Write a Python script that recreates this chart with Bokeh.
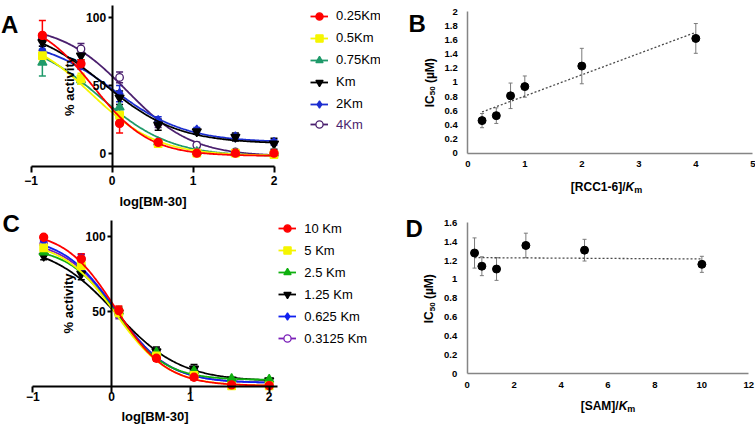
import numpy as np
from bokeh.plotting import figure
from bokeh.models import (Range1d, FixedTicker, Whisker, TeeHead, ColumnDataSource,
                          Legend, LegendItem, Label, CustomJSTickFormatter, LinearAxis)
from bokeh.layouts import row
from bokeh.embed import file_html
from bokeh.resources import INLINE

FONT = "Liberation Sans"

# ---------------- data ----------------
log_conc = [-0.862, -0.385, 0.092, 0.569, 1.046, 1.523, 2.0]
a_ticks_x = [-1, 0, 1, 2]
a_ticks_y = [0, 50, 100]
c_ticks_y = [50, 100]

# Panel A
a_labels = ["0.25Km", "0.5Km", "0.75Km", "Km", "2Km", "4Km"]
a_025 = [87, 66, 22, 8, 0, 0, 0]
a_05 = [72, 55, 28, 7, 0, 0, -1]
a_075 = [67, 54, 34, 8, 1, 0, 0]
a_km = [82, 72, 41, 21, 16, 12, 7]
a_2km = [76, 65, 44, 24, 17, 12, 8]
a_4km = [85, 77, 56, 22, 6, 1, 0]
a_025_err = [11, 3, 7, 2, 1, 1, 1]
a_05_err = [4, 4, 3, 2, 1, 1, 1]
a_075_err = [10, 3, 8, 2, 2, 1, 1]
a_km_err = [3, 3, 5, 4, 2, 3, 4]
a_2km_err = [3, 3, 6, 3, 2, 2, 2]
a_4km_err = [3, 4, 4, 3, 2, 1, 1]
# fitted 4-parameter logistic curves: top, bottom, logIC50, Hill slope
a_top = [100, 90, 85, 95, 85, 95]
a_bottom = [-2, -2, -2.5, 7, 8, -2.5]
a_logic50 = [-0.23, -0.26, -0.145, -0.1, 0.02, 0.18]
a_hill = [1.25, 1.05, 1.0, 0.95, 0.97, 1.07]

# Panel C
c_labels = ["10 Km", "5 Km", "2.5 Km", "1.25 Km", "0.625 Km", "0.3125 Km"]
c_10 = [99.5, 85, 50.4, 18.5, 5.8, 0.7, 0.2]
c_5 = [92.4, 80.6, 49, 20, 7, 0, 0]
c_25 = [89.5, 81.7, 50, 22.5, 10, 4.7, 4.2]
c_125 = [87, 75, 49, 23, 11.4, 4.2, 3.6]
c_0625 = [97, 85, 49, 21, 9, 3.6, 2.5]
c_03125 = [95, 85, 48, 22.5, 10, 3.6, 2.5]
c_10_err = [1.5, 3.5, 3, 2, 2, 1, 1]
c_5_err = [3, 3, 3, 2, 2, 1, 1]
c_25_err = [2, 3, 3, 2, 2, 1, 1]
c_125_err = [2.5, 4, 3, 3, 3, 1, 1]
c_0625_err = [2, 3, 3, 3, 2, 1, 1]
c_03125_err = [2, 3, 3, 3, 3, 1, 1]
c_top = [104, 97, 93, 95, 100, 98]
c_bottom = [0, 0, 4, 3, 2, 2]
c_logic50 = [0.05, 0.05, 0.06, 0.05, 0.05, 0.06]
c_hill = [1.35, 1.3, 1.4, 1.05, 1.3, 1.3]

# Panel B
b_ratio = [0.25, 0.5, 0.75, 1, 2, 4]
b_ic50 = [0.46, 0.53, 0.81, 0.94, 1.23, 1.62]
b_err = [0.10, 0.11, 0.18, 0.15, 0.25, 0.21]
b_ticks_x = [0, 1, 2, 3, 4, 5]
b_ticks_y = [0, 0.2, 0.4, 0.6, 0.8, 1.0, 1.2, 1.4, 1.6, 1.8, 2.0]

# Panel D
d_ratio = [0.3125, 0.625, 1.25, 2.5, 5, 10]
d_ic50 = [1.28, 1.14, 1.11, 1.36, 1.31, 1.16]
d_err = [0.16, 0.10, 0.12, 0.13, 0.115, 0.085]
d_ticks_x = [0, 2, 4, 6, 8, 10, 12]
d_ticks_y = [0, 0.2, 0.4, 0.6, 0.8, 1.0, 1.2, 1.4, 1.6]

# ---------------- styles ----------------
a_colors = ["#ff0000", "#f5f500", "#1f9a6a", "#000000", "#1c2ed0", "#4a1f6e"]
c_colors = ["#ff0000", "#f5f500", "#10b010", "#000000", "#1020f0", "#7a1fb8"]
markers = ["circle", "square", "triangle", "inverted_triangle", "diamond", "circle"]
msizes = [8, 7.5, 9, 9, 10, 7.5]

# Arial-bold-like widths (per 1000 em) for composing mixed-style labels
CW = {'[': 333, ']': 333, 'R': 722, 'C': 722, '1': 556, '-': 333, '6': 556, '/': 278,
      'K': 722, 'm': 889, 'S': 667, 'A': 722, 'M': 833, 'I': 278, '5': 556, '0': 556,
      ' ': 278, '(': 333, ')': 333, 'µ': 611}


def tw(s, size):
    return sum(CW.get(ch, 600) for ch in s) * size / 1000.0


class Geo:
    """maps canvas pixels to data units from two reference positions per axis"""
    def __init__(self, w, h, xpx0, xv0, xpx1, xv1, ypx0, yv0, ypx1, yv1, name=None):
        self.w, self.h = w, h
        self.sx = (xpx1 - xpx0) / (xv1 - xv0)
        self.xl = xv0 - xpx0 / self.sx
        self.sy = (ypx0 - ypx1) / (yv1 - yv0)
        self.yt = yv0 + ypx0 / self.sy
        self.xn = "default" if name is None else name + "x"
        self.yn = "default" if name is None else name + "y"

    def X(self, px):
        return self.xl + px / self.sx

    def Y(self, py):
        return self.yt - py / self.sy

    def xr(self):
        return Range1d(self.X(0), self.X(self.w))

    def yr(self):
        return Range1d(self.Y(self.h), self.Y(0))


def column_fig(g_top, g_bottom):
    p = figure(width=g_top.w, height=g_top.h, x_range=g_top.xr(), y_range=g_top.yr(),
               output_backend="svg", toolbar_location=None, min_border=0)
    p.extra_x_ranges = {g_bottom.xn: g_bottom.xr()}
    p.extra_y_ranges = {g_bottom.yn: g_bottom.yr()}
    p.outline_line_color = None
    p.grid.visible = False
    p.background_fill_color = "white"
    p.border_fill_color = "white"
    return p


def axes_for(p, g):
    if g.xn == "default":
        return p.xaxis[0], p.yaxis[0]
    xa = LinearAxis(x_range_name=g.xn, y_range_name=g.yn)
    ya = LinearAxis(x_range_name=g.xn, y_range_name=g.yn)
    p.add_layout(xa, "below")
    p.add_layout(ya, "left")
    return xa, ya


def text(p, g, t, px, py, size, style="bold", align="left", baseline="alphabetic",
         angle=0.0, color="black"):
    p.add_layout(Label(x=g.X(px), y=g.Y(py), x_range_name=g.xn, y_range_name=g.yn,
                       text=t, text_font=FONT, text_font_style=style,
                       text_font_size=f"{size}px", text_align=align, text_baseline=baseline,
                       angle=angle, text_color=color))


def dose_panel(p, g, xaxis_py, yaxis_top_py, xmax, yticks, values, errors, tops, bottoms,
               logic50s, hills, colors, labels, legend_pos, label_std, purple_label):
    xa, ya = axes_for(p, g)
    ya.fixed_location = 0
    xa.fixed_location = g.Y(xaxis_py)
    xa.bounds = (-1, xmax)
    ya.bounds = (g.Y(xaxis_py), g.Y(yaxis_top_py))
    xa.ticker = FixedTicker(ticks=a_ticks_x)
    ya.ticker = FixedTicker(ticks=yticks)
    xa.axis_label = "log[BM-30]"
    ya.axis_label = "% activity"
    for ax in (xa, ya):
        ax.axis_line_width = 2
        ax.axis_line_color = "black"
        ax.major_tick_line_width = 2
        ax.major_tick_in = 0
        ax.minor_tick_line_color = None
        ax.major_label_text_font = FONT
        ax.major_label_text_font_style = "bold"
        ax.major_label_text_font_size = "12px"
        ax.major_label_text_color = "black"
        ax.axis_label_text_font = FONT
        ax.axis_label_text_font_style = "bold"
        ax.axis_label_text_font_size = "13px"
        ax.axis_label_text_color = "black"
    ya.major_tick_out = 4
    ya.major_label_standoff = 2
    ya.axis_label_standoff = 6
    xa.major_tick_out = 6
    xa.major_label_standoff = label_std[0]
    xa.axis_label_standoff = label_std[1]

    rn = dict(x_range_name=g.xn, y_range_name=g.yn)
    xs = np.linspace(log_conc[0], log_conc[-1], 200)
    rend = [None] * len(values)
    for i in reversed(range(len(values))):
        c = colors[i]
        yfit = bottoms[i] + (tops[i] - bottoms[i]) / (1 + 10 ** ((xs - logic50s[i]) * hills[i]))
        lr = p.line(xs, yfit, line_color=c, line_width=1.8, **rn)
        src = ColumnDataSource(dict(x=log_conc, y=values[i],
                                    lo=[v - e for v, e in zip(values[i], errors[i])],
                                    hi=[v + e for v, e in zip(values[i], errors[i])]))
        wk = Whisker(source=src, base="x", lower="lo", upper="hi", line_color=c, line_width=1.5,
                     upper_head=TeeHead(size=7, line_color=c, line_width=1.5),
                     lower_head=TeeHead(size=7, line_color=c, line_width=1.5), **rn)
        p.add_layout(wk)
        fill = "white" if i == 5 else c
        sr = p.scatter("x", "y", source=src, marker=markers[i], size=msizes[i],
                       fill_color=fill, line_color=c, line_width=1.3, **rn)
        rend[i] = [lr, sr]

    vx, vy1, vy2 = legend_pos
    common = dict(glyph_width=18, glyph_height=18, label_height=18, label_standoff=8,
                  spacing=4, padding=0, margin=0, border_line_alpha=0,
                  background_fill_alpha=0, label_text_font=FONT, label_text_font_size="13px")
    if purple_label:
        lg1 = Legend(items=[LegendItem(label=labels[i], renderers=rend[i]) for i in range(5)],
                     location=(vx, vy1), label_text_color="black", **common)
        lg2 = Legend(items=[LegendItem(label=labels[5], renderers=rend[5])],
                     location=(vx, vy2), label_text_color=colors[5], **common)
        p.add_layout(lg1)
        p.add_layout(lg2)
    else:
        lg = Legend(items=[LegendItem(label=labels[i], renderers=rend[i]) for i in range(6)],
                    location=(vx, vy1), label_text_color="black", **common)
        p.add_layout(lg)


def ic50_panel(p, g, xmax, ymax, xticks, yticks, xs, ys, es, xlab_main, xlab_pos, ylab_pos):
    xa, ya = axes_for(p, g)
    xa.fixed_location = 0
    ya.fixed_location = 0
    xa.bounds = (0, xmax)
    ya.bounds = (0, ymax)
    xa.ticker = FixedTicker(ticks=xticks)
    ya.ticker = FixedTicker(ticks=yticks)
    ya.formatter = CustomJSTickFormatter(code="return String(Math.round(tick*10)/10);")
    for ax in (xa, ya):
        ax.axis_line_color = "#858585"
        ax.axis_line_width = 1.5
        ax.major_tick_line_color = None
        ax.major_tick_out = 0
        ax.major_tick_in = 0
        ax.minor_tick_line_color = None
        ax.major_label_text_font = FONT
        ax.major_label_text_font_style = "bold"
        ax.major_label_text_font_size = "9.5px"
        ax.major_label_text_color = "black"
    xa.major_label_standoff = 8
    ya.major_label_standoff = 10

    rn = dict(x_range_name=g.xn, y_range_name=g.yn)
    src = ColumnDataSource(dict(x=xs, y=ys, lo=[v - e for v, e in zip(ys, es)],
                                hi=[v + e for v, e in zip(ys, es)]))
    p.add_layout(Whisker(source=src, base="x", lower="lo", upper="hi", line_color="#7a7a7a",
                         line_width=1,
                         upper_head=TeeHead(size=4, line_color="#7a7a7a", line_width=1),
                         lower_head=TeeHead(size=4, line_color="#7a7a7a", line_width=1), **rn))
    slope, icpt = np.polyfit(xs, ys, 1)
    lx = [xs[0], xs[-1]]
    p.line(lx, [slope * v + icpt for v in lx], line_color="#4a4a4a", line_width=1.3,
           line_dash="2 2", **rn)
    p.scatter("x", "y", source=src, marker="circle", size=8, fill_color="black",
              line_color="black", **rn)

    # composed x label: <main>/K_m  (centre px, baseline py)
    cx, by = xlab_pos
    pieces = [(xlab_main, 12, "bold", 0), ("K", 12, "bold italic", 0), ("m", 9, "bold", 3)]
    total = sum(tw(t, s) for t, s, _, _ in pieces)
    x0 = cx - total / 2
    for t, s, st, dy in pieces:
        text(p, g, t, x0, by + dy, s, style=st)
        x0 += tw(t, s)
    # composed y label: IC_50 (µM)  (centre px x, centre py)
    lx_, cy = ylab_pos
    ypieces = [("IC", 12, 0, 0), ("50", 8, 3, 0), ("(µM)", 12, 0, tw(" ", 12))]
    total = sum(tw(t, s) + gap for t, s, _, gap in ypieces)
    y0 = cy + total / 2
    for t, s, dx, gap in ypieces:
        y0 -= gap
        text(p, g, t, lx_ + dx, y0, s, baseline="middle", angle=np.pi / 2)
        y0 -= tw(t, s)


# ---------------- left column: panels A and C ----------------
gA = Geo(380, 431, 30.7, -1, 273.5, 2, 152.7, 0, 17.3, 100)
gC = Geo(380, 431, 32.3, -1, 268.7, 2, 385.4, 0, 236, 100, name="c")
pL = column_fig(gA, gC)
dose_panel(pL, gA, 165.7, 5, 2, a_ticks_y,
           [a_025, a_05, a_075, a_km, a_2km, a_4km],
           [a_025_err, a_05_err, a_075_err, a_km_err, a_2km_err, a_4km_err],
           a_top, a_bottom, a_logic50, a_hill, a_colors, a_labels,
           (310, 431 - 112.5, 431 - 133.3), (4, 5), True)
text(pL, gA, "A", 0.5, 24, 24)
dose_panel(pL, gC, 385.7, 220, 2.11, c_ticks_y,
           [c_10, c_5, c_25, c_125, c_0625, c_03125],
           [c_10_err, c_5_err, c_25_err, c_125_err, c_0625_err, c_03125_err],
           c_top, c_bottom, c_logic50, c_hill, c_colors, c_labels,
           (278.3, 431 - 347.2, 0), (0, 4), False)
text(pL, gC, "C", 2, 223, 24)

# ---------------- right column: panels B and D (origin at x=380) ----------------
gB = Geo(375, 431, 87.3, 0, 372.3, 5, 152.7, 0, 11, 2)
gD = Geo(375, 431, 86.7, 0, 368.3, 12, 373.3, 0, 222.3, 1.6, name="d")
pR = column_fig(gB, gD)
ic50_panel(pR, gB, 5, 2, b_ticks_x, b_ticks_y, b_ratio, b_ic50, b_err, "[RCC1-6]/",
           (226, 186), (49, 82))
text(pR, gB, "B", 28, 23, 24)
ic50_panel(pR, gD, 12, 1.6, d_ticks_x, d_ticks_y, d_ratio, d_ic50, d_err, "[SAM]/",
           (227.5, 405), (48.7, 298))
text(pR, gD, "D", 25, 228, 24)

layout = row(pL, pR)
open("out.html", "w").write(file_html(layout, INLINE))
